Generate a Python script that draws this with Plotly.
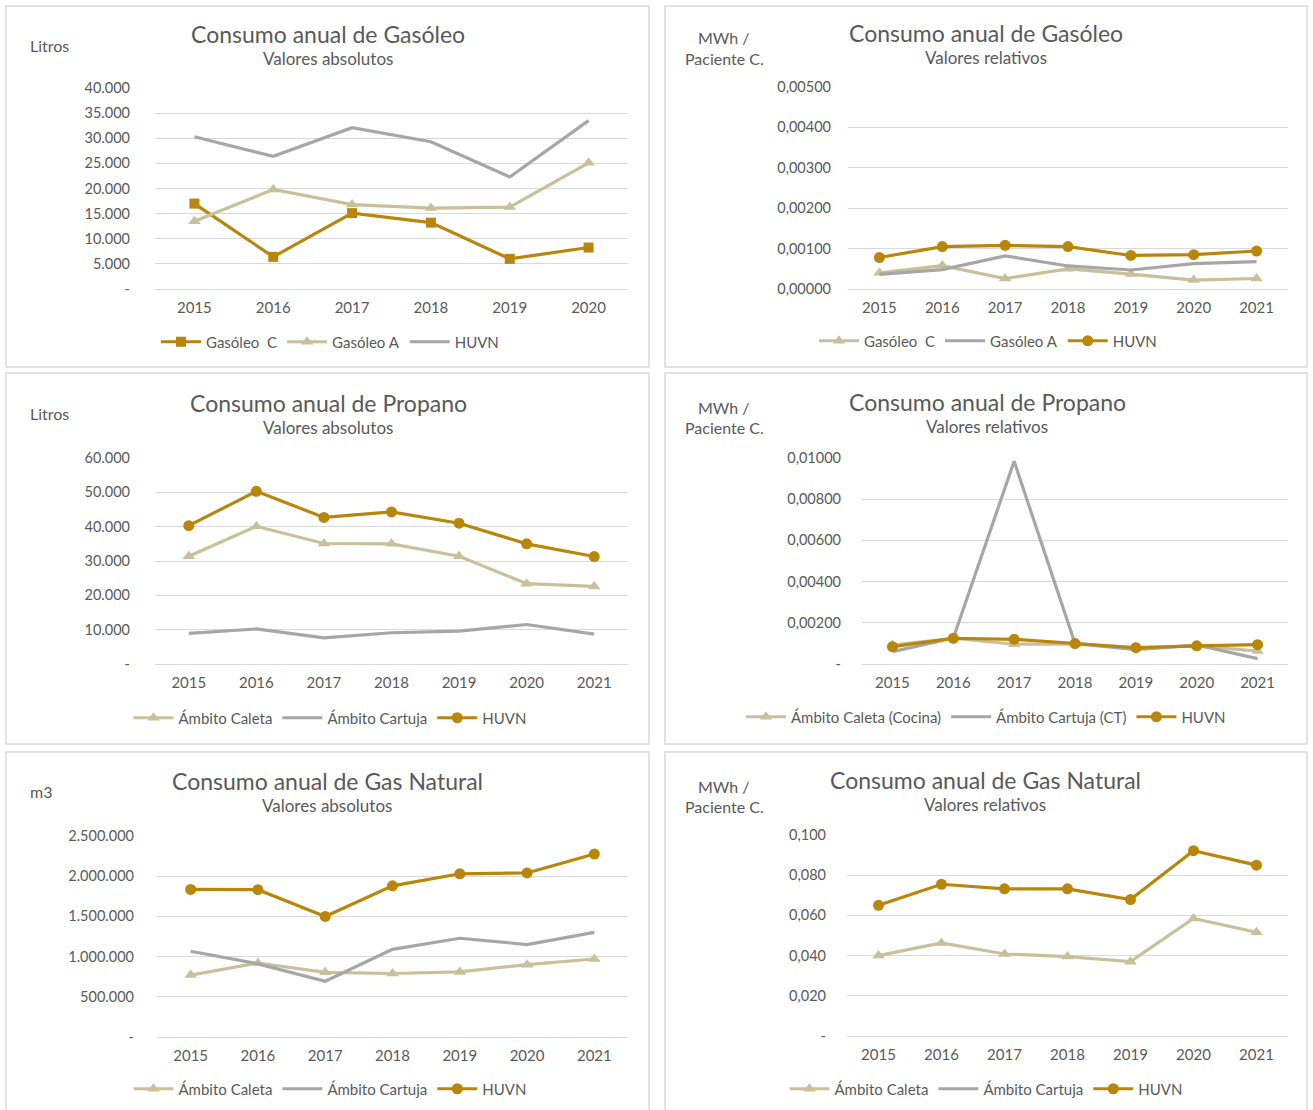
import plotly.graph_objects as go

# ---------------- DATA ----------------
years_6 = ["2015", "2016", "2017", "2018", "2019", "2020"]
years_7 = ["2015", "2016", "2017", "2018", "2019", "2020", "2021"]

# Panel 1: Consumo anual de Gasóleo - valores absolutos (Litros)
gas_abs_c = [17000, 6400, 15100, 13200, 6000, 8250]
gas_abs_a = [13500, 19800, 16800, 16100, 16300, 25100]
gas_abs_huvn = [30300, 26400, 32100, 29300, 22300, 33500]

# Panel 2: Consumo anual de Gasóleo - valores relativos (MWh / Paciente C.)
gas_rel_c = [0.00040, 0.00058, 0.00026, 0.00050, 0.00037, 0.00022, 0.00026]
gas_rel_a = [0.00036, 0.00048, 0.00082, 0.00057, 0.00047, 0.00063, 0.00068]
gas_rel_huvn = [0.00078, 0.00105, 0.00108, 0.00105, 0.00083, 0.00085, 0.00094]

# Panel 3: Consumo anual de Propano - valores absolutos (Litros)
pro_abs_caleta = [31400, 40100, 35100, 35000, 31400, 23400, 22600]
pro_abs_cartuja = [8900, 10200, 7600, 9100, 9600, 11500, 8700]
pro_abs_huvn = [40300, 50300, 42700, 44300, 41000, 35000, 31300]

# Panel 4: Consumo anual de Propano - valores relativos
pro_rel_caleta = [0.00092, 0.00125, 0.00096, 0.00097, 0.00080, 0.00088, 0.00063]
pro_rel_cartuja = [0.00060, 0.00125, 0.00984, 0.00100, 0.00070, 0.00092, 0.00026]
pro_rel_huvn = [0.00084, 0.00125, 0.00120, 0.00099, 0.00079, 0.00088, 0.00094]

# Panel 5: Consumo anual de Gas Natural - valores absolutos (m3)
gn_abs_caleta = [770000, 920000, 805000, 790000, 810000, 900000, 970000]
gn_abs_cartuja = [1066000, 910000, 693000, 1090000, 1228000, 1150000, 1302000]
gn_abs_huvn = [1835000, 1832000, 1500000, 1880000, 2030000, 2040000, 2276000]

# Panel 6: Consumo anual de Gas Natural - valores relativos
gn_rel_caleta = [0.0400, 0.0463, 0.0408, 0.0395, 0.0370, 0.0585, 0.0516]
gn_rel_cartuja = [None, None, None, None, None, None, None]
gn_rel_huvn = [0.0650, 0.0755, 0.0732, 0.0732, 0.0679, 0.0922, 0.0850]

# tick values
ticks_p1 = [0, 5000, 10000, 15000, 20000, 25000, 30000, 35000, 40000]
ticks_p2 = [0, 0.001, 0.002, 0.003, 0.004, 0.005]
ticks_p3 = [0, 10000, 20000, 30000, 40000, 50000, 60000]
ticks_p4 = [0, 0.002, 0.004, 0.006, 0.008, 0.010]
ticks_p5 = [0, 500000, 1000000, 1500000, 2000000, 2500000]
ticks_p6 = [0, 0.020, 0.040, 0.060, 0.080, 0.100]

# ---------------- STYLE ----------------
W, H = 1313, 1110
GOLD = "#B8860B"
TAN = "#C9C09B"
GREY = "#A6A6A6"
TXT = "#595959"
GRID = "#D9D9D9"
FONT = "Lato"


def px(x):
    return x / W


def py(y):
    return 1 - y / H


def fmt_int(v):
    if v == 0:
        return "-"
    return f"{v:,.0f}".replace(",", ".")


def fmt_dec(v, d, zero_dash=True):
    if v == 0 and zero_dash:
        return "-"
    return f"{v:.{d}f}".replace(".", ",")


fig = go.Figure()


def add(xs, ys, name, color, symbol, idx, legend, msize=11):
    axn = "" if idx == 1 else str(idx)
    mode = "lines" if symbol is None else "lines+markers"
    tr = dict(
        x=xs, y=ys, name=name, mode=mode,
        line=dict(color=color, width=3.2),
        xaxis="x" + axn, yaxis="y" + axn,
        legend=legend, cliponaxis=False,
    )
    if symbol is not None:
        tr["marker"] = dict(symbol=symbol, size=msize, color=color)
    fig.add_trace(go.Scatter(**tr))


# Panel 1
add(years_6, gas_abs_c, "Gasóleo  C", GOLD, "square", 1, "legend", 10)
add(years_6, gas_abs_a, "Gasóleo A", TAN, "triangle-up", 1, "legend", 11)
add(years_6, gas_abs_huvn, "HUVN", GREY, None, 1, "legend")
# Panel 2
add(years_7, gas_rel_c, "Gasóleo  C", TAN, "triangle-up", 2, "legend2", 11)
add(years_7, gas_rel_a, "Gasóleo A", GREY, None, 2, "legend2")
add(years_7, gas_rel_huvn, "HUVN", GOLD, "circle", 2, "legend2", 11)
# Panel 3
add(years_7, pro_abs_caleta, "Ámbito Caleta", TAN, "triangle-up", 3, "legend3", 11)
add(years_7, pro_abs_cartuja, "Ámbito Cartuja", GREY, None, 3, "legend3")
add(years_7, pro_abs_huvn, "HUVN", GOLD, "circle", 3, "legend3", 11)
# Panel 4
add(years_7, pro_rel_caleta, "Ámbito Caleta (Cocina)", TAN, "triangle-up", 4, "legend4", 11)
add(years_7, pro_rel_cartuja, "Ámbito Cartuja (CT)", GREY, None, 4, "legend4")
add(years_7, pro_rel_huvn, "HUVN", GOLD, "circle", 4, "legend4", 11)
# Panel 5
add(years_7, gn_abs_caleta, "Ámbito Caleta", TAN, "triangle-up", 5, "legend5", 11)
add(years_7, gn_abs_cartuja, "Ámbito Cartuja", GREY, None, 5, "legend5")
add(years_7, gn_abs_huvn, "HUVN", GOLD, "circle", 5, "legend5", 11)
# Panel 6
add(years_7, gn_rel_caleta, "Ámbito Caleta", TAN, "triangle-up", 6, "legend6", 11)
add(years_7, gn_rel_cartuja, "Ámbito Cartuja", GREY, None, 6, "legend6")
add(years_7, gn_rel_huvn, "HUVN", GOLD, "circle", 6, "legend6", 11)

panels = [
    ((155, 628, 88, 289), years_6, ticks_p1, [fmt_int(v) for v in ticks_p1], 24),
    ((848, 1288, 87, 289), years_7, ticks_p2, [fmt_dec(v, 5, False) for v in ticks_p2], 16),
    ((155, 628, 458, 664), years_7, ticks_p3, [fmt_int(v) for v in ticks_p3], 24),
    ((862, 1288, 458, 664), years_7, ticks_p4, [fmt_dec(v, 5) for v in ticks_p4], 20),
    ((157, 628, 836, 1037), years_7, ticks_p5, [fmt_int(v) for v in ticks_p5], 22),
    ((847, 1288, 835, 1036), years_7, ticks_p6, [fmt_dec(v, 3) for v in ticks_p6], 20),
]

layout = dict(
    width=W, height=H,
    margin=dict(l=0, r=0, t=0, b=0, pad=0, autoexpand=False),
    paper_bgcolor="white", plot_bgcolor="white",
    font=dict(family=FONT, color=TXT, size=13),
    hovermode=False,
)

for i, ((x0, x1, yt, yb), cats, tv, tt, so) in enumerate(panels, start=1):
    axn = "" if i == 1 else str(i)
    layout["xaxis" + axn] = dict(
        domain=[px(x0), px(x1)], anchor="y" + axn, type="category",
        range=[-0.5, len(cats) - 0.5],
        showgrid=False, showline=False, zeroline=False, ticks="",
        tickfont=dict(size=15, color=TXT, family=FONT), ticklabelstandoff=8,
        fixedrange=True, automargin=False,
    )
    layout["yaxis" + axn] = dict(
        domain=[py(yb), py(yt)], anchor="x" + axn,
        range=[0, tv[-1]], tickvals=tv, ticktext=tt,
        showgrid=True, gridcolor=GRID, gridwidth=1.3,
        zeroline=True, zerolinecolor=GRID, zerolinewidth=1.3,
        showline=False, ticks="", ticklabelstandoff=so,
        tickfont=dict(size=14.5, color=TXT, family=FONT),
        fixedrange=True, automargin=False,
    )

legend_pos = [(330, 342), (988, 341), (330, 718), (986, 717), (330, 1089), (986, 1089)]
for i, (lx, ly) in enumerate(legend_pos, start=1):
    key = "legend" if i == 1 else f"legend{i}"
    layout[key] = dict(
        orientation="h", x=px(lx), y=py(ly), xanchor="center", yanchor="middle",
        font=dict(size=15, color=TXT, family=FONT), bgcolor="rgba(0,0,0,0)",
        itemwidth=40, tracegroupgap=0, itemclick=False, itemdoubleclick=False,
    )

boxes = [(6, 649, 6, 367), (665, 1307, 6, 367), (6, 649, 373, 744),
         (665, 1307, 373, 744), (6, 649, 752, 1120), (665, 1307, 752, 1120)]
shapes = []
for (x0, x1, y0, y1) in boxes:
    shapes.append(dict(type="rect", xref="paper", yref="paper",
                       x0=px(x0), x1=px(x1), y0=py(y1), y1=py(y0),
                       line=dict(color=GRID, width=1.5), fillcolor="rgba(0,0,0,0)", layer="below"))
layout["shapes"] = shapes

anns = []


def text(x, y, s, size, xanchor="center"):
    anns.append(dict(xref="paper", yref="paper", x=px(x), y=py(y), text=s, showarrow=False,
                     xanchor=xanchor, yanchor="middle",
                     font=dict(size=size, color=TXT, family=FONT)))


titles = [
    (328, 34, "Consumo anual de Gasóleo", "Valores absolutos"),
    (986, 33, "Consumo anual de Gasóleo", "Valores relativos"),
    (328, 403, "Consumo anual de Propano", "Valores absolutos"),
    (987, 402, "Consumo anual de Propano", "Valores relativos"),
    (327, 781, "Consumo anual de Gas Natural", "Valores absolutos"),
    (985, 780, "Consumo anual de Gas Natural", "Valores relativos"),
]
for (x, y, t, s) in titles:
    text(x, y, t, 23)
    text(x, y + 24, s, 17)

text(28, 45, "Litros", 16, "left")
text(28, 413, "Litros", 16, "left")
text(28, 791, "m3", 16, "left")
for y in (38, 407, 786):
    text(724, y, "MWh /", 16)
    text(724, y + 20, "Paciente C.", 16)

layout["annotations"] = anns
fig.update_layout(**layout)

fig.write_html(
    "out.html",
    post_script="document.body.style.margin='0';",
    config={"displayModeBar": False},
)
